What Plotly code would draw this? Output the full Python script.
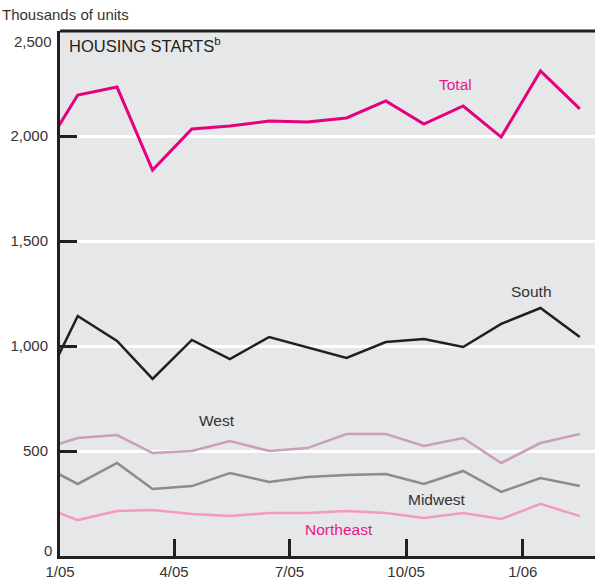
import plotly.graph_objects as go

months = ["2004-12-15", "2005-01-15", "2005-02-15", "2005-03-15", "2005-04-15", "2005-05-15",
          "2005-06-15", "2005-07-15", "2005-08-15", "2005-09-15", "2005-10-15", "2005-11-15",
          "2005-12-15", "2006-01-15", "2006-02-15"]
total = [1890, 2195, 2233, 1838, 2033, 2048, 2071, 2067, 2086, 2167, 2057, 2143, 1995, 2310, 2129]
south = [760, 1143, 1024, 843, 1029, 938, 1043, 993, 943, 1019, 1033, 995, 1105, 1181, 1043]
west = [502, 562, 576, 490, 500, 548, 500, 514, 581, 581, 524, 562, 443, 538, 581]
midwest = [440, 343, 443, 319, 333, 395, 352, 376, 386, 390, 343, 405, 305, 371, 333]
northeast = [241, 171, 214, 219, 200, 190, 205, 205, 214, 205, 181, 205, 176, 248, 190]

tick_vals = ["2005-01-01", "2005-04-01", "2005-07-01", "2005-10-01", "2006-01-01"]
tick_text = ["1/05", "4/05", "7/05", "10/05", "1/06"]
y_ticks = [0, 500, 1000, 1500, 2000, 2500]
y_text = ["0", "500", "1,000", "1,500", "2,000", "2,500"]

DARK = "#231f20"
TXT = "#333333"
FONT = "Liberation Sans Narrow, Liberation Sans, Arial, sans-serif"

series = [
    ("Northeast", northeast, "#f49ac1", 2.5),
    ("Midwest", midwest, "#8c8b8d", 2.5),
    ("West", west, "#c9a0b8", 2.5),
    ("South", south, DARK, 2.5),
    ("Total", total, "#e6007e", 3),
]

fig = go.Figure()
for name, vals, color, w in series:
    fig.add_trace(go.Scatter(x=months, y=vals, mode="lines", name=name,
                             line=dict(color=color, width=w), hoverinfo="x+y"))

labels = [
    ("Total", "2005-11-09", 2245, "#e6198a"),
    ("South", "2006-01-08", 1258, TXT),
    ("West", "2005-05-05", 645, TXT),
    ("Midwest", "2005-10-25", 268, TXT),
    ("Northeast", "2005-08-09", 128, "#e6198a"),
]
for text, x, y, c in labels:
    fig.add_annotation(x=x, y=y, text=text, showarrow=False,
                       font=dict(family=FONT, size=15.5, color=c))

# inner y ticks on the axis; the end labels sit slightly inside the frame in the reference
inner_vals = y_ticks[1:-1]
inner_text = y_text[1:-1]
for v, t, dy in [(y_ticks[0], y_text[0], 6), (y_ticks[-1], y_text[-1], -10)]:
    fig.add_annotation(xref="paper", x=0, y=v, text=t, showarrow=False,
                       xanchor="right", xshift=-6, yshift=dy,
                       font=dict(family=FONT, size=15, color=TXT))

fig.add_annotation(xref="paper", yref="paper", x=0.013, y=0.974, xanchor="left", yanchor="middle",
                   text="HOUSING STARTS<sup>b</sup>", showarrow=False,
                   font=dict(family="Liberation Sans, Arial, sans-serif", size=16.5, color=DARK))
fig.add_annotation(xref="paper", yref="paper", x=-0.112, y=1.031, xanchor="left", yanchor="middle",
                   text="Thousands of units", showarrow=False,
                   font=dict(family=FONT, size=15, color=TXT))

fig.add_shape(type="line", xref="paper", yref="paper", x0=0, x1=1, y0=1, y1=1,
              line=dict(color=DARK, width=3))

fig.update_layout(
    width=595, height=586,
    margin=dict(l=60, r=0, t=31, b=30),
    paper_bgcolor="white", plot_bgcolor="#e6e7e8",
    showlegend=False,
)
fig.update_xaxes(
    type="date", range=["2005-01-01", "2006-02-27"],
    tickvals=tick_vals, ticktext=tick_text,
    ticks="inside", ticklen=17, tickwidth=2.5, tickcolor=DARK,
    showgrid=False, showline=True, linecolor=DARK, linewidth=3,
    tickfont=dict(family=FONT, size=15, color=TXT),
    zeroline=False,
)
fig.update_yaxes(
    range=[0, 2500], tickvals=inner_vals, ticktext=inner_text,
    ticks="inside", ticklen=17, tickwidth=2.5, tickcolor=DARK,
    showgrid=True, gridcolor="white", gridwidth=2.5,
    showline=True, linecolor=DARK, linewidth=3,
    tickfont=dict(family=FONT, size=15, color=TXT),
    zeroline=False, ticklabelstandoff=6,
)

fig.write_html("out.html", config={"displayModeBar": False},
               post_script="document.body.style.margin='0';document.body.style.overflow='hidden';")
